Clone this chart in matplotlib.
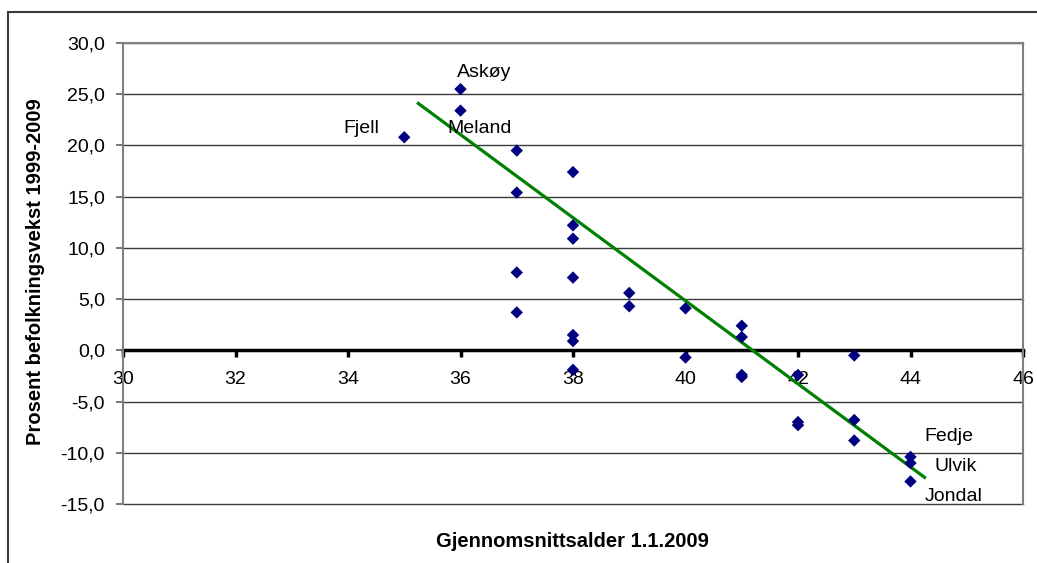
import matplotlib
matplotlib.use("Agg")
import matplotlib.pyplot as plt
from matplotlib.lines import Line2D
from matplotlib.ticker import FuncFormatter

plt.rcParams['font.family'] = ['Liberation Sans', 'DejaVu Sans']

# Data (average age vs. population growth 1999-2009, %)
ages = [35, 36, 36, 37, 37, 37, 37, 38, 38, 38, 38, 38, 38, 38,
        39, 39, 40, 40, 41, 41, 41, 41, 42, 42, 42, 43, 43, 43, 44, 44, 44]
growth = [20.8, 25.5, 23.4, 19.5, 15.4, 7.6, 3.7, 17.4, 12.2, 10.9, 7.1, 1.5, 0.9, -1.9,
          5.6, 4.3, 4.1, -0.7, 2.4, 1.3, -2.4, -2.6, -2.4, -7.0, -7.3, -0.5, -6.8, -8.8,
          -10.4, -11.0, -12.8]

# Named points
label_names = ["Askøy", "Meland", "Fjell", "Fedje", "Ulvik", "Jondal"]
label_x = [36, 36, 35, 44, 44, 44]
label_y = [25.5, 23.4, 20.8, -10.4, -11.0, -12.8]

# Trend line (as drawn)
trend_x = [35.25, 44.25]
trend_y = [24.1, -12.4]

x_ticks = [30, 32, 34, 36, 38, 40, 42, 44, 46]
y_ticks = [30, 25, 20, 15, 10, 5, 0, -5, -10, -15]

W, H = 1037, 563
fig = plt.figure(figsize=(W / 100, H / 100), dpi=100)
ax = fig.add_axes([123 / W, 1 - 504 / H, (1023 - 123) / W, (504 - 43) / H])

ax.set_xlim(30, 46)
ax.set_ylim(-15, 30)

ax.grid(axis='y', color='#3a3a3a', linewidth=1.0, zorder=0)
ax.set_axisbelow(True)

ax.plot(trend_x, trend_y, color='#008000', linewidth=2.3, zorder=3)
ax.scatter(ages, growth, marker='D', s=40, color='#000080', edgecolors='none', zorder=4)

# Labels (offsets in pixels)
offsets = {"Askøy": (24, 17), "Meland": (19, -18), "Fjell": (-43, 9),
           "Fedje": (38, 20), "Ulvik": (45, -3), "Jondal": (43, -15)}
for name, lx, ly in zip(label_names, label_x, label_y):
    ax.annotate(name, (lx, ly), xytext=offsets[name], textcoords='offset pixels',
                ha='center', va='center', fontsize=14, color='black', zorder=5)

# Spines
for s in ['top', 'right', 'left']:
    ax.spines[s].set_color('#808080')
    ax.spines[s].set_linewidth(1.5)
ax.spines['bottom'].set_position(('data', 0))
ax.spines['bottom'].set_color('black')
ax.spines['bottom'].set_linewidth(2.5)
ax.spines['bottom'].set_zorder(2)

ax.set_xticks(x_ticks)
ax.set_yticks(y_ticks)
ax.yaxis.set_major_formatter(FuncFormatter(lambda v, p: f"{v:.1f}".replace('.', ',')))
ax.tick_params(axis='y', direction='out', length=5, width=1.2, color='#606060',
               labelsize=14, pad=8)
ax.tick_params(axis='x', direction='out', length=5, width=2.5, color='black',
               labelsize=14, pad=10)

for gl in ax.get_ygridlines():
    gl.set_clip_on(False)

ax.set_xlabel("Gjennomsnittsalder 1.1.2009", fontsize=14.5, fontweight='bold')
ax.xaxis.set_label_coords((572 - 123) / (1023 - 123), -(532 - 504) / (504 - 43))
ax.set_ylabel("Prosent befolkningsvekst 1999-2009", fontsize=14.5, fontweight='bold')
ax.yaxis.set_label_coords(-(123 - 45) / (1023 - 123), (504 - 272) / (504 - 43))

# Outer chart frame (partially visible)
fig.add_artist(Line2D([8 / W, 8 / W], [0, 1 - 12 / H], color='#3c3c3c', linewidth=1.5))
fig.add_artist(Line2D([8 / W, 1], [1 - 12 / H, 1 - 12 / H], color='#3c3c3c', linewidth=1.5))

fig.savefig("out.png", dpi=100)
